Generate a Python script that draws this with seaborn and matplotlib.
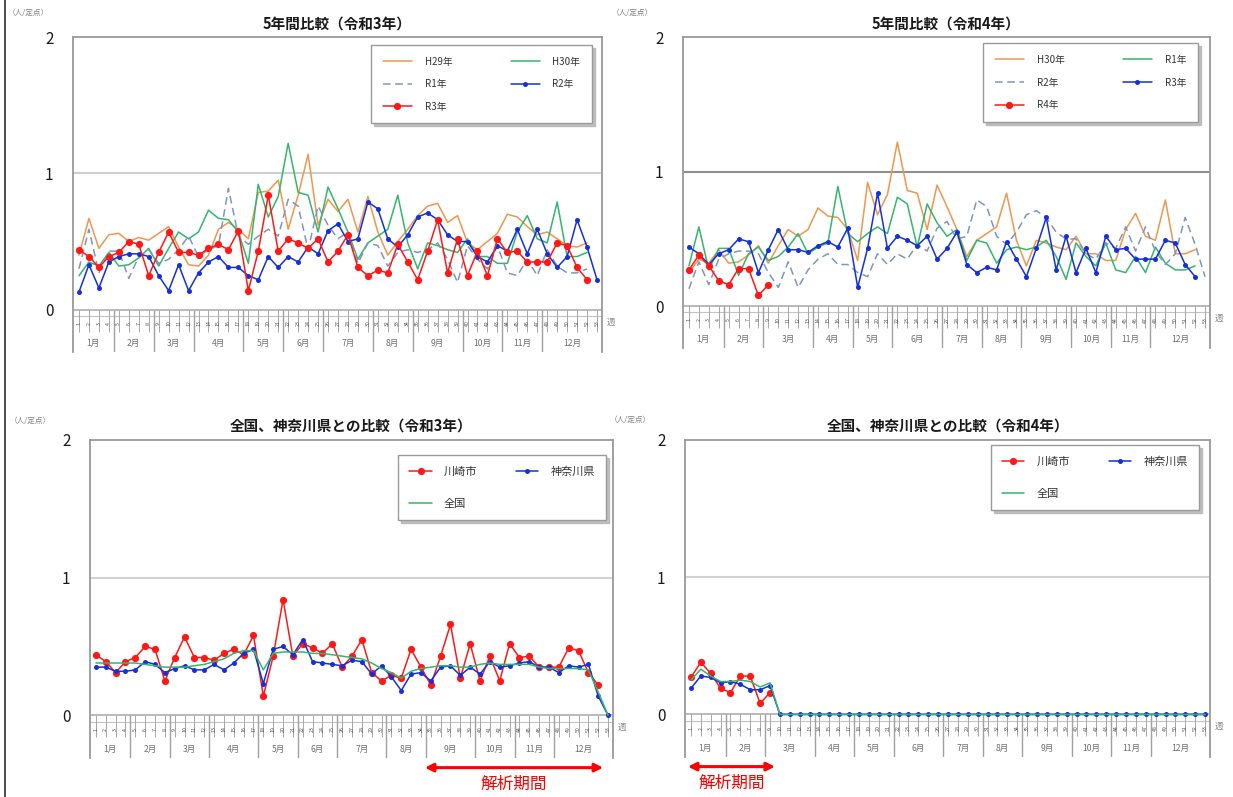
import matplotlib
matplotlib.use("Agg")
import matplotlib.pyplot as plt
import seaborn as sns
from matplotlib.lines import Line2D

sns.set_theme(style="white")
plt.rcParams['font.family'] = ['Noto Sans CJK JP', 'DejaVu Sans']

# ---------------- data ----------------
weeks = list(range(1, 54))

h29 = [0.40, 0.67, 0.45, 0.55, 0.56, 0.50, 0.53, 0.51, 0.56, 0.61,
       0.46, 0.33, 0.32, 0.40, 0.59, 0.64, 0.59, 0.52, 0.86, 0.87,
       0.95, 0.59, 0.84, 1.14, 0.62, 0.81, 0.72, 0.81, 0.57, 0.83,
       0.57, 0.40, 0.50, 0.59, 0.69, 0.76, 0.78, 0.64, 0.69, 0.49,
       0.44, 0.50, 0.56, 0.70, 0.68, 0.61, 0.55, 0.57, 0.52, 0.47,
       0.46, 0.49]
h30 = [0.25, 0.35, 0.32, 0.42, 0.32, 0.33, 0.38, 0.45, 0.32, 0.45,
       0.57, 0.52, 0.57, 0.73, 0.67, 0.66, 0.57, 0.34, 0.92, 0.68,
       0.83, 1.22, 0.86, 0.84, 0.57, 0.90, 0.74, 0.57, 0.37, 0.49,
       0.54, 0.59, 0.84, 0.49, 0.30, 0.49, 0.47, 0.44, 0.42, 0.52,
       0.39, 0.39, 0.34, 0.34, 0.57, 0.69, 0.52, 0.49, 0.79, 0.39,
       0.39, 0.42]
r1 = [0.30, 0.59, 0.27, 0.43, 0.43, 0.23, 0.39, 0.44, 0.34, 0.37,
      0.44, 0.54, 0.39, 0.44, 0.47, 0.89, 0.54, 0.48, 0.54, 0.59,
      0.54, 0.81, 0.76, 0.44, 0.76, 0.62, 0.52, 0.57, 0.34, 0.49,
      0.47, 0.32, 0.42, 0.44, 0.42, 0.44, 0.49, 0.37, 0.20, 0.47,
      0.37, 0.30, 0.47, 0.27, 0.25, 0.37, 0.25, 0.44, 0.32, 0.27,
      0.27, 0.30]
r2 = [0.13, 0.33, 0.16, 0.35, 0.39, 0.41, 0.41, 0.39, 0.25, 0.14,
      0.33, 0.14, 0.27, 0.35, 0.39, 0.31, 0.31, 0.25, 0.22, 0.39,
      0.31, 0.39, 0.35, 0.46, 0.41, 0.58, 0.63, 0.50, 0.52, 0.79,
      0.74, 0.52, 0.46, 0.55, 0.68, 0.71, 0.66, 0.55, 0.50, 0.50,
      0.39, 0.35, 0.47, 0.43, 0.59, 0.41, 0.59, 0.41, 0.31, 0.39,
      0.66, 0.46, 0.22]
r3 = [0.44, 0.39, 0.31, 0.39, 0.42, 0.50, 0.48, 0.25, 0.42, 0.57,
      0.42, 0.42, 0.40, 0.45, 0.48, 0.44, 0.58, 0.14, 0.43, 0.84,
      0.43, 0.52, 0.49, 0.45, 0.52, 0.35, 0.43, 0.55, 0.31, 0.25,
      0.29, 0.27, 0.48, 0.35, 0.22, 0.43, 0.66, 0.27, 0.52, 0.25,
      0.43, 0.25, 0.52, 0.42, 0.43, 0.35, 0.35, 0.35, 0.49, 0.47,
      0.31, 0.22]
r4 = [0.27, 0.38, 0.30, 0.19, 0.16, 0.28, 0.28, 0.08, 0.16]

kanagawa_r3 = [0.35, 0.35, 0.32, 0.32, 0.33, 0.39, 0.37, 0.31, 0.34, 0.36,
               0.33, 0.33, 0.37, 0.33, 0.38, 0.45, 0.48, 0.23, 0.48, 0.50,
               0.44, 0.55, 0.39, 0.38, 0.37, 0.36, 0.40, 0.39, 0.30, 0.36,
               0.28, 0.18, 0.30, 0.31, 0.25, 0.35, 0.36, 0.29, 0.35, 0.30,
               0.39, 0.35, 0.36, 0.38, 0.39, 0.35, 0.35, 0.31, 0.36, 0.35,
               0.37, 0.14, 0.00]
national_r3 = [0.38, 0.38, 0.38, 0.38, 0.38, 0.37, 0.36, 0.35, 0.35, 0.35,
               0.36, 0.37, 0.39, 0.41, 0.45, 0.47, 0.47, 0.33, 0.45, 0.46,
               0.46, 0.46, 0.45, 0.45, 0.44, 0.43, 0.42, 0.41, 0.38, 0.34,
               0.31, 0.27, 0.32, 0.34, 0.35, 0.36, 0.36, 0.35, 0.35, 0.37,
               0.38, 0.37, 0.37, 0.37, 0.37, 0.35, 0.34, 0.34, 0.34, 0.34,
               0.33, 0.17, 0.00]
kanagawa_r4 = [0.19, 0.28, 0.27, 0.23, 0.24, 0.22, 0.18, 0.18, 0.21, 0.00,
               0.00, 0.00, 0.00, 0.00, 0.00, 0.00, 0.00, 0.00, 0.00, 0.00,
               0.00, 0.00, 0.00, 0.00, 0.00, 0.00, 0.00, 0.00, 0.00, 0.00,
               0.00, 0.00, 0.00, 0.00, 0.00, 0.00, 0.00, 0.00, 0.00, 0.00,
               0.00, 0.00, 0.00, 0.00, 0.00, 0.00, 0.00, 0.00, 0.00, 0.00,
               0.00, 0.00, 0.00]
national_r4 = [0.25, 0.33, 0.28, 0.24, 0.24, 0.25, 0.24, 0.20, 0.23, 0.00,
               0.00, 0.00, 0.00, 0.00, 0.00, 0.00, 0.00, 0.00, 0.00, 0.00,
               0.00, 0.00, 0.00, 0.00, 0.00, 0.00, 0.00, 0.00, 0.00, 0.00,
               0.00, 0.00, 0.00, 0.00, 0.00, 0.00, 0.00, 0.00, 0.00, 0.00,
               0.00, 0.00, 0.00, 0.00, 0.00, 0.00, 0.00, 0.00, 0.00, 0.00,
               0.00, 0.00, 0.00]

month_labels = ["1月", "2月", "3月", "4月", "5月", "6月",
                "7月", "8月", "9月", "10月", "11月", "12月"]
month_bounds_r3 = [4.5, 8.5, 12.5, 17.5, 21.5, 25.5, 30.5, 34.5, 39.5, 43.5, 47.5]
month_bounds_r4 = [4.5, 8.5, 13.5, 17.5, 21.5, 26.5, 30.5, 34.5, 39.5, 43.5, 47.5]
analysis_r3 = (34.4, 52.5)
analysis_r4 = (0.7, 9.5)

titles = ["5年間比較（令和3年）", "5年間比較（令和4年）",
          "全国、神奈川県との比較（令和3年）", "全国、神奈川県との比較（令和4年）"]

# ---------------- colours ----------------
C_OR = "#F0964E"
C_GR = "#35B56E"
C_DA = "#7F95BE"
C_BL = "#1530D8"
C_RD = "#FF1818"

W, H = 1233, 797
XL = (0.4, 53.5)
YL = (-0.31, 2.0)

fig = plt.figure(figsize=(W / 100, H / 100), dpi=100)
fig.patch.set_facecolor("white")


def add_ax(l, r, t, b):
    return fig.add_axes([l / W, 1 - b / H, (r - l) / W, (b - t) / H])


def series(ax, y, color, label, marker=None, ms=0, ls="-", lw=1.1, z=3):
    x = weeks[:len(y)]
    kw = dict(color=color, linestyle=ls, linewidth=lw, zorder=z, legend=False)
    if marker:
        kw.update(marker=marker, markersize=ms, markeredgewidth=0)
    sns.lineplot(x=x, y=y, ax=ax, **kw)
    line = ax.lines[-1]
    line.set_label(label)
    return line


def style(ax, bounds, grid_col):
    ax.set_xlim(*XL)
    ax.set_ylim(*YL)
    ax.set_facecolor("white")
    ax.set_yticks([0, 1, 2])
    ax.set_yticklabels(["0", "1", "2"])
    ax.tick_params(axis="y", length=0, pad=14, labelsize=11, labelcolor="#1a1a1a")
    ax.set_xticks([])
    ax.set_xlabel("")
    ax.set_ylabel("")
    for s in ["top", "left", "right"]:
        ax.spines[s].set_color("#9a9a9a")
        ax.spines[s].set_linewidth(1.3)
    ax.spines["bottom"].set_visible(False)
    ax.axhline(1, color=grid_col, lw=1.5, zorder=1)
    ax.axhline(0, color="#b4b4b4", lw=1.3, zorder=1)
    ax.axhline(-0.045, color="#c4c4c4", lw=0.8, zorder=1)
    ax.vlines(weeks, -0.16, 0.0, color="#a8a8a8", lw=0.7, zorder=1)
    for w in weeks:
        ax.text(w, -0.10, str(w), fontsize=3.8, rotation=90, ha="center",
                va="center", color="#555555", zorder=1)
    ax.vlines(bounds, YL[0], 0.0, color="#a0a0a0", lw=1.0, zorder=1)
    edges = [XL[0]] + bounds + [XL[1]]
    for i, lab in enumerate(month_labels):
        ax.text((edges[i] + edges[i + 1]) / 2, -0.245, lab, fontsize=6.2,
                ha="center", va="center", color="#6f6f6f")
    ax.text(XL[1] + 0.5, -0.09, "週", fontsize=6, ha="left", va="center",
            color="#8a8a8a", clip_on=False)


def legend(ax, handles, anchor, fs, hl, htp, cs, ls, bp):
    lg = ax.legend(handles=handles, labels=[h.get_label() for h in handles],
                   ncol=2, loc="upper right", bbox_to_anchor=anchor,
                   fontsize=fs, frameon=True, fancybox=False, edgecolor="#9a9a9a",
                   framealpha=1, handlelength=hl, handletextpad=htp,
                   columnspacing=cs, labelspacing=ls, borderpad=bp,
                   borderaxespad=0, shadow={"color": "#b8b8b8", "alpha": 0.9})
    lg.get_frame().set_linewidth(1.0)
    for t in lg.get_texts():
        t.set_color("#333333")
    return lg


ax_tl = add_ax(73, 602, 37, 352)
ax_tr = add_ax(683, 1210, 37, 348)
ax_bl = add_ax(90, 613, 440, 758)
ax_br = add_ax(685, 1210, 440, 757)

TITLE_KW = dict(fontsize=10.5, color="#1a1a1a", fontweight="bold")

# ---- top-left: 5-year comparison R3 ----
a = series(ax_tl, h29, C_OR, "H29年")
b = series(ax_tl, h30, C_GR, "H30年")
c = series(ax_tl, r1, C_DA, "R1年", ls=(0, (5, 3)))
d = series(ax_tl, r2, C_BL, "R2年", marker="o", ms=3.6)
e = series(ax_tl, r3, C_RD, "R3年", marker="o", ms=5.2, z=4)
style(ax_tl, month_bounds_r3, "#cfcfcf")
legend(ax_tl, [a, c, e, b, d], (0.981, 0.975), 7, 3.0, 1.3, 6.0, 1.3, 1.2)
ax_tl.set_title(titles[0], pad=6, **TITLE_KW)

# ---- top-right: 5-year comparison R4 ----
a = series(ax_tr, h30, C_OR, "H30年")
b = series(ax_tr, r1, C_GR, "R1年")
c = series(ax_tr, r2, C_DA, "R2年", ls=(0, (5, 3)))
d = series(ax_tr, r3, C_BL, "R3年", marker="o", ms=3.6)
e = series(ax_tr, r4, C_RD, "R4年", marker="o", ms=5.2, z=4)
style(ax_tr, month_bounds_r4, "#8f8f8f")
legend(ax_tr, [a, c, e, b, d], (0.977, 0.98), 7, 3.0, 1.3, 6.0, 1.3, 1.2)
ax_tr.set_title(titles[1], pad=6, **TITLE_KW)

# ---- bottom-left: national / prefecture R3 ----
a = series(ax_bl, r3, C_RD, "川崎市", marker="o", ms=5.2)
b = series(ax_bl, kanagawa_r3, C_BL, "神奈川県", marker="o", ms=3.6)
c = series(ax_bl, national_r3, C_GR, "全国", z=4)
style(ax_bl, month_bounds_r3, "#d2d2d2")
legend(ax_bl, [a, c, b], (0.987, 0.953), 8, 2.0, 1.1, 3.5, 2.0, 1.0)
ax_bl.set_title(titles[2], pad=7, **TITLE_KW)

# ---- bottom-right: national / prefecture R4 ----
a = series(ax_br, r4, C_RD, "川崎市", marker="o", ms=5.2)
b = series(ax_br, kanagawa_r4, C_BL, "神奈川県", marker="o", ms=3.6)
c = series(ax_br, national_r4, C_GR, "全国", z=4)
style(ax_br, month_bounds_r4, "#d2d2d2")
legend(ax_br, [a, c, b], (0.979, 0.984), 8, 2.0, 1.1, 3.5, 2.0, 1.0)
ax_br.set_title(titles[3], pad=7, **TITLE_KW)

# analysis-period arrows
for ax, (x0, x1) in [(ax_bl, analysis_r3), (ax_br, analysis_r4)]:
    ax.annotate("", xy=(x1, -0.38), xytext=(x0, -0.38),
                arrowprops=dict(arrowstyle="<|-|>", color="#FF0000", lw=2.2,
                                mutation_scale=12, shrinkA=0, shrinkB=0),
                annotation_clip=False)
    ax.text((x0 + x1) / 2, -0.50, "解析期間", color="#FF0000", fontsize=12,
            ha="center", va="center", clip_on=False)

# unit labels
for (px, py) in [(8, 13), (612, 13), (10, 421), (610, 420)]:
    fig.text(px / W, 1 - py / H, "（人/定点）", fontsize=5.5, color="#808080",
             ha="left", va="center")

# left border
fig.add_artist(Line2D([5 / W, 5 / W], [0, 1], transform=fig.transFigure,
                      color="#303030", lw=1.2))

fig.savefig("out.png", dpi=100, facecolor="white")
